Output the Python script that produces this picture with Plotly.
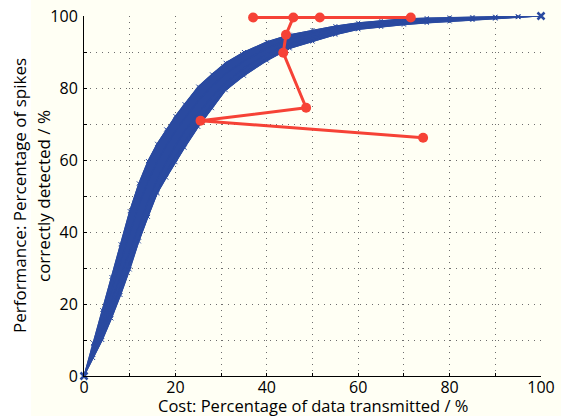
import plotly.graph_objects as go

# ---- data ----
cost_x = [0, 2, 4, 6, 8, 10, 12, 14, 16, 18, 20, 22, 25, 28, 31, 35, 40, 45, 50,
          55, 60, 65, 70, 75, 80, 85, 90, 95, 100]

perf_upper = [0, 9.2, 18.3, 27.5, 36.6, 45.8, 53.5, 59.7, 64.5, 68.5, 72.2, 75.5, 80.4, 83.8,
              87.0, 90.0, 92.8, 94.8, 96.1, 97.2, 98.1, 98.7, 99.2, 99.4, 99.6, 99.7, 99.8, 99.9, 100]
perf_mid1 = [0, 8, 16, 24, 32, 40, 47.5, 54, 59.5, 64, 68, 71.5, 76.5, 80.5,
             84, 87.5, 91, 93.5, 95.2, 96.5, 97.5, 98.2, 98.7, 99.1, 99.3, 99.5, 99.7, 99.85, 100]
perf_mid2 = [0, 7, 14, 21, 28, 35, 42, 48.5, 54.5, 59.5, 64, 68, 73, 77.5,
             81.5, 85.5, 89.5, 92.3, 94.2, 95.7, 96.9, 97.7, 98.3, 98.7, 99.0, 99.3, 99.5, 99.8, 100]
perf_mid3 = [0, 6, 12, 18.5, 25, 31.5, 38.5, 45, 51, 56.5, 61, 65, 70.5, 75.5,
             80, 84, 88.2, 91.3, 93.3, 95, 96.4, 97.3, 97.9, 98.4, 98.8, 99.1, 99.4, 99.7, 100]
perf_lower = [0, 5, 10, 16, 22.5, 29.6, 37.4, 44.2, 50.7, 55.1, 59.4, 63.4, 69.2, 74.4,
              79.4, 83.4, 87.6, 91.0, 92.9, 94.8, 96.3, 97.0, 97.6, 98.1, 98.5, 98.9, 99.3, 99.7, 100]

red_cost = [74.2, 25.5, 48.6, 43.6, 44.2, 45.8, 37.0, 51.6, 71.5]
red_perf = [66.2, 70.9, 74.5, 89.8, 94.8, 99.6, 99.6, 99.6, 99.6]

tick_vals = [0, 20, 40, 60, 80, 100]
x_title = "Cost: Percentage of data transmitted / %"
y_title_1 = "Performance: Percentage of spikes"
y_title_2 = "correctly detected / %"

BLUE = "rgb(42,74,160)"
RED = "rgb(246,66,54)"
CREAM = "rgb(255,255,244)"
FONT = "Open Sans"

fig = go.Figure()

# filled band between the outer curves
fig.add_trace(go.Scatter(x=cost_x, y=perf_lower, mode="lines",
                         line=dict(color=BLUE, width=1), showlegend=False,
                         hoverinfo="skip", cliponaxis=False))
fig.add_trace(go.Scatter(x=cost_x, y=perf_upper, mode="lines", fill="tonexty",
                         fillcolor=BLUE, line=dict(color=BLUE, width=1),
                         showlegend=False, hoverinfo="skip", cliponaxis=False))

for ys in [perf_upper, perf_mid1, perf_mid2, perf_mid3, perf_lower]:
    fig.add_trace(go.Scatter(
        x=cost_x, y=ys, mode="lines+markers",
        line=dict(color=BLUE, width=1.2),
        marker=dict(symbol="x-thin", size=4, line=dict(color=BLUE, width=1)),
        showlegend=False, cliponaxis=False))

# clear end marker at (100, 100) and origin
fig.add_trace(go.Scatter(
    x=[cost_x[0], cost_x[-1]], y=[perf_upper[0], perf_upper[-1]], mode="markers",
    marker=dict(symbol="x-thin", size=7, line=dict(color=BLUE, width=2.5)),
    showlegend=False, cliponaxis=False))

fig.add_trace(go.Scatter(
    x=red_cost, y=red_perf, mode="lines+markers",
    line=dict(color=RED, width=3),
    marker=dict(symbol="circle", size=10, color=RED),
    showlegend=False, cliponaxis=False))

axis_common = dict(
    range=[0, 100], tickvals=tick_vals, showgrid=True, gridcolor="rgb(110,110,110)",
    griddash="1px,5px", gridwidth=1, showline=True, linecolor="black", linewidth=1,
    zeroline=False, ticks="inside", ticklen=3, tickcolor="black", automargin=False,
    tickfont=dict(family=FONT, size=16, color="black"),
    minor=dict(dtick=10, tick0=0, showgrid=True, gridcolor="rgb(110,110,110)",
               griddash="1px,5px", ticks="inside", ticklen=3, tickcolor="black"),
)

fig.update_xaxes(**axis_common, ticklabelstandoff=-3)
fig.update_yaxes(**axis_common, ticklabelstandoff=2)

L, R, T, B = 84, 20, 16, 40
W, H = 561, 416
pw = W - L - R
ph = H - T - B

fig.update_layout(
    width=W, height=H,
    margin=dict(l=L, r=R, t=T, b=B, autoexpand=False),
    paper_bgcolor=CREAM, plot_bgcolor=CREAM,
    font=dict(family=FONT, size=16, color="black"),
    shapes=[dict(type="rect", xref="paper", yref="paper", x0=-L / pw - 0.1,
                 x1=(31 - L) / pw, y0=-1, y1=2, fillcolor="white",
                 line=dict(width=0), layer="below")],
    annotations=[
        dict(text=x_title, xref="paper", yref="paper", x=0.5, y=-29 / ph,
             xanchor="center", yanchor="middle", showarrow=False,
             font=dict(family=FONT, size=16.5)),
        dict(text=y_title_1, xref="paper", yref="paper", x=(19 - L) / pw, y=0.5,
             xanchor="center", yanchor="middle", textangle=-90, showarrow=False,
             font=dict(family=FONT, size=17)),
        dict(text=y_title_2, xref="paper", yref="paper", x=(43 - L) / pw, y=0.5,
             xanchor="center", yanchor="middle", textangle=-90, showarrow=False,
             font=dict(family=FONT, size=17)),
    ],
)

fig.write_html("out.html", config={"displayModeBar": False},
               post_script="document.body.style.margin='0px';document.body.style.overflow='hidden';")
